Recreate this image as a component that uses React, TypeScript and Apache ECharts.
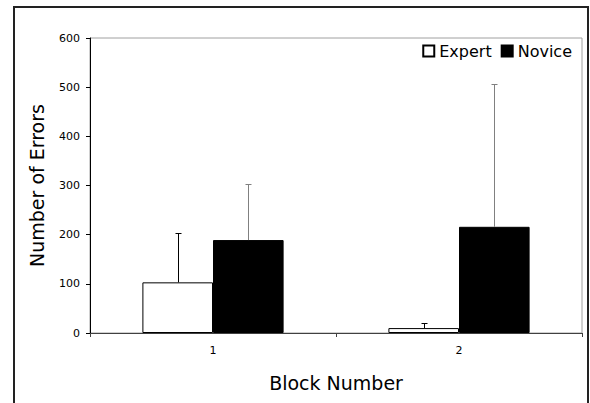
import React, { useEffect, useRef } from "react";
import * as echarts from "echarts";

const categories = ["1", "2"];
const seriesNames = ["Expert", "Novice"];
const expertMeans = [103, 10];
const expertUpper = [204, 20];
const noviceMeans = [189, 216];
const noviceUpper = [303, 507];
const yTicks = { min: 0, max: 600, interval: 100 };

const FONT = "DejaVu Sans";
const GAP = 0.426;

function errorSeries(means: number[], upper: number[], offset: number, color: string) {
  return {
    type: "custom",
    silent: true,
    z: 5,
    encode: { x: 0, y: 1 },
    data: means.map((m, i) => [i, m, upper[i]]),
    renderItem: (params: any, api: any) => {
      const cat = api.value(0);
      const v = api.value(1);
      const hi = api.value(2);
      const base = api.coord([cat, v]);
      const top = api.coord([cat, hi]);
      const band = api.size([1, 0])[0];
      const barW = (band * (1 - GAP)) / 2;
      const cx = Math.round(base[0] + (offset * barW) / 2) + 0.5;
      const ty = Math.round(top[1]) + 0.5;
      return {
        type: "group",
        children: [
          { type: "line", shape: { x1: cx, y1: base[1], x2: cx, y2: ty }, style: { stroke: color, lineWidth: 1 } },
          { type: "line", shape: { x1: cx - 3, y1: ty, x2: cx + 3, y2: ty }, style: { stroke: color, lineWidth: 1 } },
        ],
      };
    },
  };
}

export default function App() {
  const ref = useRef<HTMLDivElement>(null);
  useEffect(() => {
    document.body.style.margin = "0";
    const chart = echarts.init(ref.current!, null, { renderer: "svg" });
    chart.setOption({
      animation: false,
      backgroundColor: "#ffffff",
      textStyle: { fontFamily: FONT },
      grid: { left: 90, top: 38, right: 8, bottom: 70, show: true, borderColor: "#a0a0a0", borderWidth: 1 },
      graphic: [
        {
          type: "rect",
          shape: { x: 14, y: 7, width: 574, height: 420 },
          style: { fill: "none", stroke: "#222", lineWidth: 2 },
          silent: true,
        },
      ],
      legend: {
        data: seriesNames,
        right: 18,
        top: 43,
        padding: 0,
        itemWidth: 11,
        itemHeight: 11,
        itemGap: 9,
        icon: "rect",
        textStyle: { fontSize: 16, color: "#000", fontFamily: FONT },
      },
      xAxis: {
        type: "category",
        data: categories,
        name: "Block Number",
        nameLocation: "middle",
        nameGap: 40,
        nameTextStyle: { fontSize: 19, color: "#000", fontFamily: FONT },
        axisLine: { lineStyle: { color: "#404040", width: 1 } },
        axisTick: { show: true, length: 4, lineStyle: { color: "#404040" } },
        axisLabel: { fontSize: 11, color: "#000", margin: 12, fontFamily: FONT },
      },
      yAxis: {
        type: "value",
        min: yTicks.min,
        max: yTicks.max,
        interval: yTicks.interval,
        name: "Number of Errors",
        nameLocation: "middle",
        nameGap: 44,
        nameTextStyle: { fontSize: 19, color: "#000", fontFamily: FONT },
        axisLine: { show: true, lineStyle: { color: "#000", width: 1 } },
        axisTick: { show: true, length: 4, lineStyle: { color: "#000" } },
        axisLabel: { fontSize: 11, color: "#000", margin: 10, fontFamily: FONT },
        splitLine: { show: false },
      },
      series: [
        {
          name: seriesNames[0],
          type: "bar",
          data: expertMeans,
          barGap: "0%",
          barCategoryGap: GAP * 100 + "%",
          itemStyle: { color: "#ffffff", borderColor: "#000", borderWidth: 1 },
        },
        {
          name: seriesNames[1],
          type: "bar",
          data: noviceMeans,
          barGap: "0%",
          barCategoryGap: GAP * 100 + "%",
          itemStyle: { color: "#000000", borderColor: "#000", borderWidth: 1 },
        },
        errorSeries(expertMeans, expertUpper, -1, "#000"),
        errorSeries(noviceMeans, noviceUpper, 1, "#808080"),
      ],
    });
    return () => chart.dispose();
  }, []);
  return <div ref={ref} style={{ width: 590, height: 403 }} />;
}
